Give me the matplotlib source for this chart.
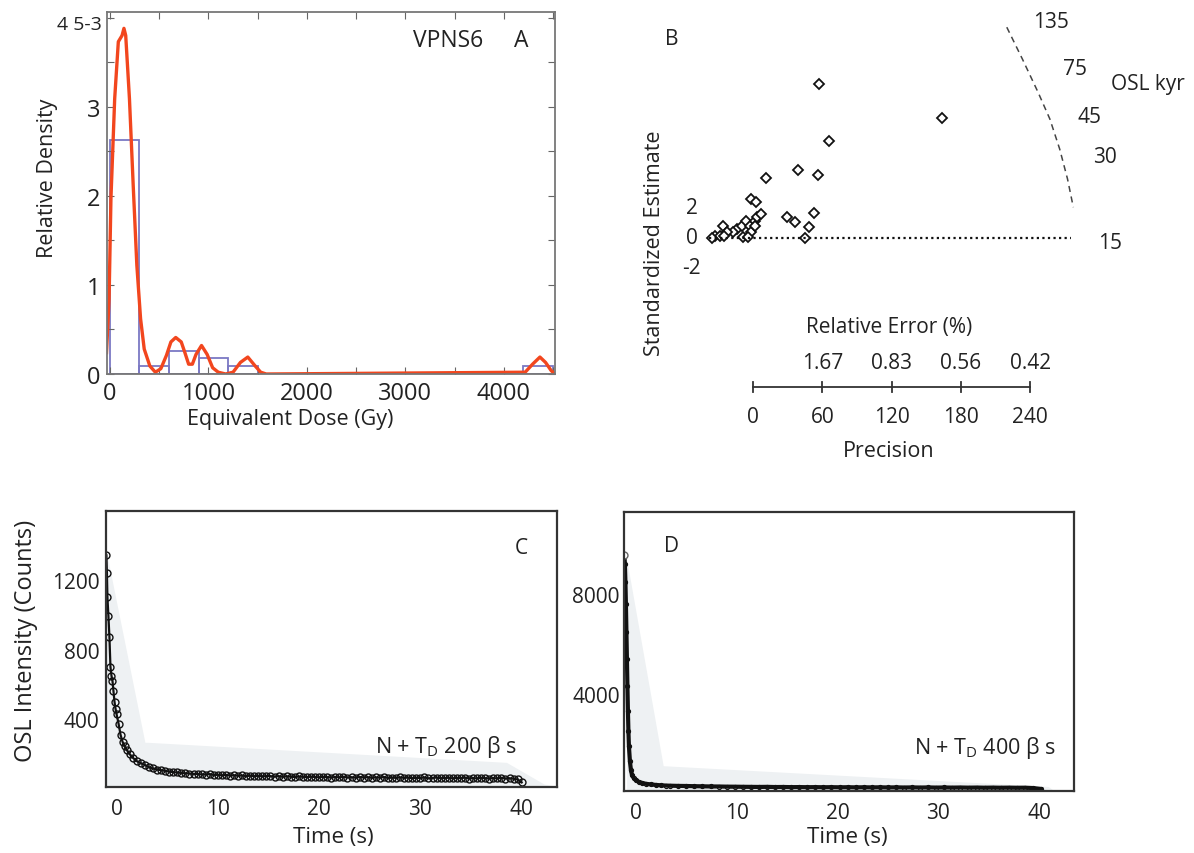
import numpy as np
import matplotlib
matplotlib.use('Agg')
from matplotlib import pyplot as plt

plt.rcParams['font.family'] = ['Open Sans', 'DejaVu Sans']
plt.rcParams['mathtext.fontset'] = 'custom'
plt.rcParams['mathtext.rm'] = 'Open Sans'

W, H = 1194, 854
TXT = '#222222'

# ---- panel A: equivalent dose distribution (density x 1e-3)
bin_left = [0, 300, 600, 900, 1200, 4200]
bin_count = [30, 1, 3, 2, 1, 1]
n_grains = 38
bin_width = 300
kde_dose = [-35, -9, 10, 48, 85, 123, 142, 160, 198, 236, 273, 311, 348, 405, 461,
            517, 574, 619, 668, 724, 761, 799, 837, 874, 930, 987, 1043, 1100, 1175,
            1250, 1325, 1400, 1475, 1531, 1587, 4217, 4292, 4367, 4424, 4480, 4518]
kde_dens = [0.24, 0.84, 1.97, 3.09, 3.73, 3.80, 3.88, 3.80, 3.09, 2.12, 1.22, 0.62,
            0.28, 0.09, 0.02, 0.06, 0.21, 0.36, 0.41, 0.36, 0.24, 0.11, 0.11, 0.22,
            0.32, 0.22, 0.07, 0.02, 0.0, 0.02, 0.13, 0.19, 0.09, 0.02, 0.0, 0.02,
            0.11, 0.19, 0.13, 0.04, 0.0]

# ---- panel B: radial plot
prec = [57.4, 163.4, 66.1, 39.2, 56.0, 11.3, -2.0, 2.6, -26.2, -14.1, -9.8, -6.1,
        -2.6, 1.7, 3.7, 6.9, -1.7, -17.1, -22.8, -32.9, -28.6, -24.8, -8.4, -4.1,
        29.2, 36.4, 53.1, 48.7, 45.0, 1.7, -35.8]
zest = [10.27, 7.98, 6.49, 4.55, 4.22, 4.0, 2.6, 2.42, 0.82, 0.6, 0.78, 1.15,
        0.82, 1.15, 1.38, 1.6, 0.38, 0.38, 0.38, 0.11, 0.11, 0.11, 0.05, 0.05,
        1.38, 1.09, 1.65, 0.71, -0.02, 0.82, 0.0]
arc_p = [219.7, 233.2, 246.8, 257.0, 265.5, 272.3, 277.3]
arc_z = [14.05, 11.93, 9.71, 7.93, 5.93, 3.93, 2.05]
age_labels = ['135', '75', '45', '30', '15']
age_p = [258.3, 279.0, 290.9, 304.5, 309.5]
age_z = [14.4, 11.27, 8.13, 5.4, -0.27]
prec_ticks = [0, 60, 120, 180, 240]
rel_err = ['1.67', '0.83', '0.56', '0.42']

# ---- panel C: N + TD 200 Gy decay curve
c_t_early = [-1.0, -0.95, -0.9, -0.8, -0.7, -0.6, -0.5, -0.4, -0.3, -0.2, -0.1, 0.0,
             0.2, 0.4, 0.6, 0.8, 1.0, 1.3, 1.6, 2.0, 2.4, 2.8, 3.2, 3.6, 4.0]
c_v_early = [1340, 1240, 1100, 990, 870, 700, 650, 620, 560, 500, 460, 430,
             375, 310, 270, 245, 225, 200, 180, 160, 148, 138, 125, 118, 112]
c_v_tail = [108, 104, 100, 97, 95, 92, 90, 89, 87, 86,
            84, 83, 86, 80, 82, 78, 81, 77, 79, 76,
            78, 74, 77, 73, 76, 72, 75, 74, 71, 74,
            70, 73, 71, 69, 72, 70, 68, 71, 69, 67,
            70, 68, 66, 69, 67, 70, 66, 68, 65, 69,
            66, 68, 64, 67, 65, 69, 63, 66, 64, 67,
            64, 66, 62, 65, 63, 67, 61, 64, 66, 62,
            63, 65, 61, 64, 62, 66, 60, 63, 61, 64,
            62, 60, 63, 61, 64, 60, 62, 59, 55, 38]
c_t_tail = np.round(4.4 + 0.4 * np.arange(len(c_v_tail)), 2)
c_shade_t = [-1.0, 2.8, 3.1, 38.5, 42.2, 43.5]
c_shade_v = [1360, 268, 268, 153, 29, 15]

# ---- panel D: N + TD 400 Gy decay curve
d_t_early = [-1.15, -1.1, -1.05, -1.0, -0.95, -0.9, -0.85, -0.8, -0.75, -0.7, -0.6,
             -0.5, -0.4, -0.2, 0.0, 0.3, 0.6, 1.0, 1.5, 2.0, 2.5, 3.0]
d_v_early = [9560, 9200, 8500, 7600, 6500, 5400, 4300, 3300, 2500, 1900, 1300,
             950, 760, 620, 540, 480, 440, 405, 380, 360, 345, 335]
d_v_tail = [330, 322, 318, 310, 305, 300, 298, 292, 290, 286,
            283, 280, 284, 276, 279, 272, 275, 270, 273, 268,
            271, 266, 269, 264, 267, 262, 266, 260, 264, 258,
            262, 257, 261, 255, 259, 254, 258, 252, 256, 250,
            254, 249, 252, 247, 250, 236, 200]
d_t_tail = np.round(3.4 + 0.8 * np.arange(len(d_v_tail)), 2)
d_shade_t = [-0.93, 2.7, 40.9, 41.5]
d_shade_v = [9400, 1130, 300, 130]


def box(l, t, r, b):
    return [l / W, 1 - b / H, (r - l) / W, (b - t) / H]


def ftext(x, y, s, **kw):
    fig.text(x / W, 1 - y / H, s, color=TXT, **kw)


fig = plt.figure(figsize=(W / 100, H / 100), dpi=100)

# ===== A
axA = fig.add_axes(box(107.3, 13.3, 555, 375))
dens = [c / (n_grains * bin_width) * 1000 for c in bin_count]
axA.bar(bin_left, dens, width=bin_width, align='edge', fill=False,
        edgecolor='#7b78c4', linewidth=1.3)
axA.plot(kde_dose, kde_dens, color='#f2461e', linewidth=2.4)
axA.set_xlim(-27, 4520)
axA.set_ylim(0, 4.06)
axA.set_xticks(np.arange(0, 4501, 500))
axA.set_xticklabels(['0', '', '1000', '', '2000', '', '3000', '', '4000', ''])
axA.set_yticks(np.arange(0, 4.01, 0.5))
axA.set_yticklabels(['0', '', '1', '', '2', '', '3', '', ''])
axA.tick_params(direction='in', top=True, right=True, length=5, color='#666666',
                labelsize=17, labelcolor=TXT, pad=5)
axA.tick_params(axis='y', pad=5)
for s in axA.spines.values():
    s.set_color('#777777')
    s.set_linewidth(1.3)
axA.text(-84, 3.93, '4 5-3', ha='right', va='center', fontsize=14, color=TXT,
         clip_on=False)
axA.text(3082, 3.75, 'VPNS6', ha='left', va='center', fontsize=16.5, color=TXT)
axA.text(4100, 3.75, 'A', ha='left', va='center', fontsize=16.5, color=TXT)
ftext(48, 178, 'Relative Density', rotation=90, ha='center', va='center', fontsize=15.5)
ftext(290, 420, 'Equivalent Dose (Gy)', ha='center', va='center', fontsize=15.5)

# ===== B
axB = fig.add_axes(box(600, 0, 1194, 470))
axB.set_xlim(-132.5, 381.8)
axB.set_ylim(-15.4, 15.93)
axB.axis('off')
axB.plot(prec, zest, linestyle='none', marker='D', markersize=5.5,
         markerfacecolor='white', markeredgecolor='#111111', markeredgewidth=1.3)
axB.plot([-37.9, 275.7], [0, 0], linestyle=(0, (1, 1.5)), color='#111111', linewidth=1.6)
axB.plot(arc_p, arc_z, linestyle=(0, (4, 3)), color='#444444', linewidth=1.1)
for lab, p, z in zip(age_labels, age_p, age_z):
    axB.text(p, z, lab, ha='center', va='center', fontsize=15, color=TXT)
axB.text(341.7, 10.27, 'OSL kyr', ha='center', va='center', fontsize=15, color=TXT)
axB.text(-70.1, 13.27, 'B', ha='center', va='center', fontsize=15, color=TXT)
for z in [2, 0, -2]:
    axB.text(-53.2, z, str(z), ha='center', va='center', fontsize=15, color=TXT)
axB.text(-85.4, -0.27, 'Standardized Estimate', rotation=90, ha='center',
         va='center', fontsize=15.5, color=TXT)
axB.text(117.4, -5.87, 'Relative Error (%)', ha='center', va='center', fontsize=15, color=TXT)
for p, lab in zip(prec_ticks[1:], rel_err):
    axB.text(p, -8.27, lab, ha='center', va='center', fontsize=15, color=TXT)
axB.plot([prec_ticks[0], prec_ticks[-1]], [-9.93, -9.93], color='#333333', linewidth=1.3)
for p in prec_ticks:
    axB.plot([p, p], [-10.25, -9.6], color='#333333', linewidth=1.3)
    axB.text(p, -11.87, str(p), ha='center', va='center', fontsize=15, color=TXT)
axB.text(117.4, -14.2, 'Precision', ha='center', va='center', fontsize=15.5, color=TXT)

# ===== C
axC = fig.add_axes(box(106.2, 511.7, 556.8, 788.3))
axC.fill_between(c_shade_t, c_shade_v, 0, color='#eef1f3', linewidth=0)
c_t = list(c_t_early) + list(c_t_tail)
c_v = list(c_v_early) + list(c_v_tail)
axC.plot(c_t, c_v, color='#111111', linewidth=1.6, marker='o', markersize=5,
         markerfacecolor='none', markeredgecolor='#111111', markeredgewidth=1.0)
axC.set_xlim(-1.02, 43.47)
axC.set_ylim(10, 1596)
axC.set_xticks([0, 10, 20, 30, 40])
axC.set_yticks([400, 800, 1200])
axC.tick_params(length=0, labelsize=15, labelcolor=TXT)
axC.tick_params(axis='x', pad=8)
axC.tick_params(axis='y', pad=5)
for s in axC.spines.values():
    s.set_color('#333333')
    s.set_linewidth(1.6)
axC.text(40, 1386, 'C', ha='center', va='center', fontsize=15, color=TXT)
axC.text(39.5, 248, r'N + T$_\mathrm{D}$ 200 β s', ha='right', va='center',
         fontsize=15.5, color=TXT)
ftext(26, 641, 'OSL Intensity (Counts)', rotation=90, ha='center', va='center', fontsize=17)
ftext(333, 838, 'Time (s)', ha='center', va='center', fontsize=16)

# ===== D
axD = fig.add_axes(box(624, 513.3, 1074, 791.7))
axD.fill_between(d_shade_t, d_shade_v, 130, color='#eef1f3', linewidth=0)
d_t = list(d_t_early) + list(d_t_tail)
d_v = list(d_v_early) + list(d_v_tail)
axD.plot(d_t, d_v, color='#111111', linewidth=3.0, marker='o', markersize=3,
         markerfacecolor='none', markeredgecolor='#111111', markeredgewidth=0.8)
axD.plot(d_t[0], d_v[0], marker='o', markersize=5, markerfacecolor='white',
         markeredgecolor='#666666', markeredgewidth=1.0)
axD.set_xlim(-1.19, 43.47)
axD.set_ylim(130, 11270)
axD.set_xticks([0, 10, 20, 30, 40])
axD.set_yticks([4000, 8000])
axD.tick_params(length=0, labelsize=15, labelcolor=TXT)
axD.tick_params(axis='x', pad=8)
axD.tick_params(axis='y', pad=3)
for s in axD.spines.values():
    s.set_color('#333333')
    s.set_linewidth(1.6)
axD.text(3.55, 9930, 'D', ha='center', va='center', fontsize=15, color=TXT)
axD.text(41.7, 1880, r'N + T$_\mathrm{D}$ 400 β s', ha='right', va='center',
         fontsize=15.5, color=TXT)
ftext(847, 838, 'Time (s)', ha='center', va='center', fontsize=16)

fig.savefig('out.png', dpi=100)
